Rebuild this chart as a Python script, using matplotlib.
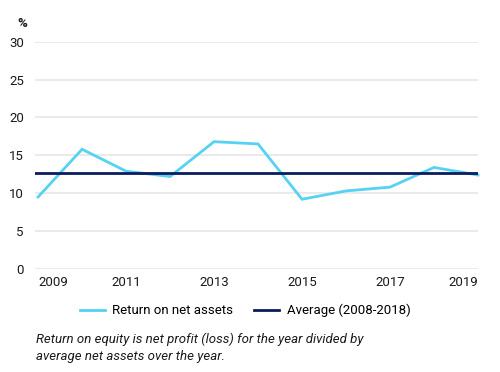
import matplotlib
matplotlib.use("Agg")
import matplotlib.pyplot as plt
from matplotlib.lines import Line2D

plt.rcParams['font.family'] = ['Roboto', 'DejaVu Sans']

years = [2009, 2010, 2011, 2012, 2013, 2014, 2015, 2016, 2017, 2018, 2019]
roe = [9.5, 15.8, 12.9, 12.2, 16.8, 16.5, 9.2, 10.3, 10.8, 13.4, 12.4]
average = 12.7
yticks = [0, 5, 10, 15, 20, 25, 30]
xticks = [2009, 2011, 2013, 2015, 2017, 2019]

light = '#56d2f2'
navy = '#0b1b5e'

fig = plt.figure(figsize=(5, 3.72), dpi=100)
ax = fig.add_axes([0.07, 0.277, 0.886, 0.611])
ax.set_xlim(2008.93, 2019)
ax.set_ylim(0, 30)
ax.set_yticks(yticks)
ax.grid(axis='y', color='#e6e6e6', linewidth=1.2)
ax.set_axisbelow(True)
for s in ax.spines.values():
    s.set_visible(False)
ax.tick_params(length=0, labelsize=9.5, colors='#1a1a1a', pad=8)
ax.tick_params(axis='x', pad=5)
ax.set_xticks(xticks)
ax.set_xticklabels([str(x) for x in xticks])
labs = ax.get_xticklabels()
labs[0].set_ha('left')
labs[-1].set_ha('right')

ax.plot(years, roe, color=light, linewidth=2, solid_joinstyle='miter', clip_on=False)
ax.axhline(average, color=navy, linewidth=2)

fig.text(0.044, 0.927, '%', fontsize=9.5, fontweight='bold', color='#1a1a1a',
         ha='center', va='baseline')

handles = [Line2D([], [], color=light, linewidth=2),
           Line2D([], [], color=navy, linewidth=2)]
fig.legend(handles, ['Return on net assets', 'Average (2008-2018)'],
           loc='center', bbox_to_anchor=(0.49, 0.165), ncol=2, frameon=False,
           fontsize=9.5, handlelength=1.9, columnspacing=1.6, handletextpad=0.55)

fig.text(0.072, 0.078,
         'Return on equity is net profit (loss) for the year divided by',
         fontsize=9.5, style='italic', color='#1a1a1a', ha='left', va='baseline')
fig.text(0.072, 0.032,
         'average net assets over the year.',
         fontsize=9.5, style='italic', color='#1a1a1a', ha='left', va='baseline')

fig.savefig('out.png', dpi=100)
